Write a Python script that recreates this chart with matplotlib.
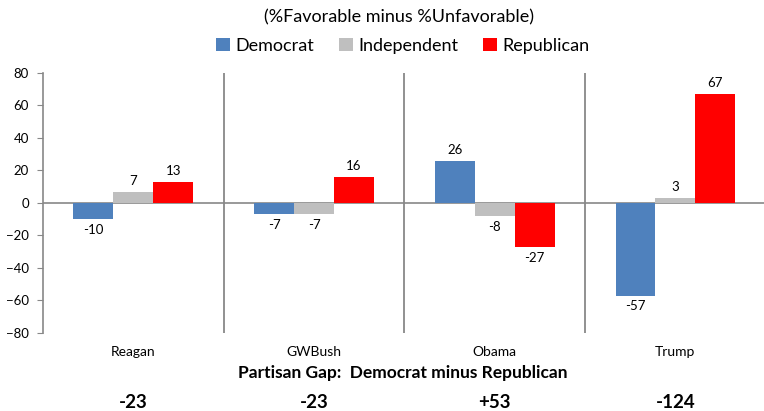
import matplotlib.pyplot as plt
import numpy as np

plt.rcParams['font.family'] = ['Lato', 'DejaVu Sans']

presidents = ['Reagan', 'GWBush', 'Obama', 'Trump']
parties = ['Democrat', 'Independent', 'Republican']
democrat = [-10, -7, 26, -57]
independent = [7, -7, -8, 3]
republican = [13, 16, -27, 67]
gap_labels = ['-23', '-23', '+53', '-124']
colors = ['#4F81BD', '#BFBFBF', '#FF0000']

fig = plt.figure(figsize=(7.64, 4.11), dpi=100)
ax = fig.add_axes([0.0563, 0.19, 0.946, 0.6326])

x = np.arange(len(presidents))
w = 0.221
series = [democrat, independent, republican]
for i, (vals, col, name) in enumerate(zip(series, colors, parties)):
    pos = x + (i - 1) * w
    bars = ax.bar(pos, vals, w, color=col, label=name, zorder=3)
    for xp, v in zip(pos, vals):
        if v >= 0:
            ax.text(xp, v + 3, str(v), ha='center', va='bottom', fontsize=9.5)
        else:
            ax.text(xp, v - 3, str(v), ha='center', va='top', fontsize=9.5)

ax.set_xlim(-0.5, 3.5)
ax.set_ylim(-80, 80)
ax.set_yticks(range(-80, 81, 20))
ax.tick_params(axis='y', labelsize=9.5, length=4, color='#888888', direction='out', pad=6)
ax.set_xticks([])

for s in ['top', 'right', 'bottom']:
    ax.spines[s].set_visible(False)
ax.spines['left'].set_color('#888888')
ax.spines['left'].set_linewidth(1.2)
ax.axhline(0, color='#888888', lw=1.2, zorder=2)
for b in [0.5, 1.5, 2.5]:
    ax.axvline(b, color='#888888', lw=1.3, zorder=1)

# category names and the partisan gap row underneath
for xi, name, gap in zip(x, presidents, gap_labels):
    ax.text(xi, -88, name, ha='center', va='top', fontsize=10)
    ax.text(xi, -123, gap, ha='center', va='center', fontsize=13.5, fontweight='bold')
fig.text(0.527, 0.093, 'Partisan Gap:  Democrat minus Republican', ha='center', va='center',
         fontsize=12.5, fontweight='bold')

fig.text(0.522, 0.957, '(%Favorable minus %Unfavorable)', ha='center', va='center', fontsize=13)
fig.legend(loc='center', bbox_to_anchor=(0.527, 0.888), ncol=3, frameon=False, fontsize=13,
           handlelength=0.75, handleheight=0.75, handletextpad=0.3, columnspacing=1.4)

fig.savefig('out.png', dpi=100)
